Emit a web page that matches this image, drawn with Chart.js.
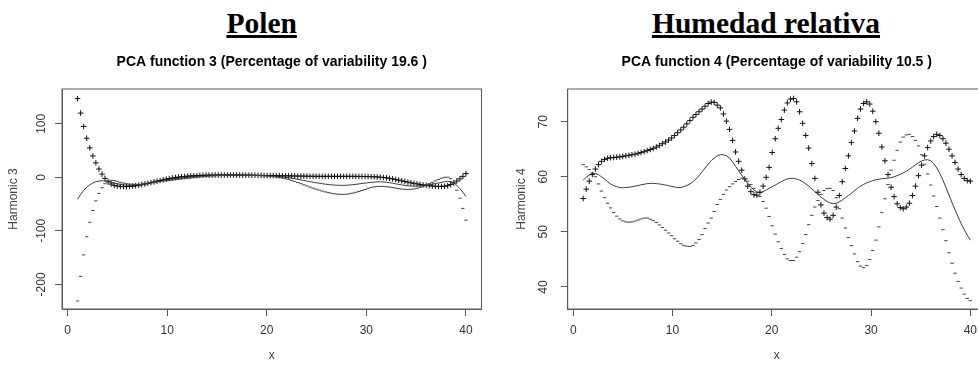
<!DOCTYPE html>
<html>
<head>
<meta charset="utf-8">
<script src="https://cdn.jsdelivr.net/npm/chart.js@4.4.0/dist/chart.umd.min.js"></script>
<style>
  html, body { margin: 0; padding: 0; background: #fff; overflow: hidden; width: 978px; height: 367px; }
  .head {
    position: absolute; top: 8.6px; width: 400px; text-align: center;
    font-family: 'Liberation Serif', 'Times New Roman', serif; font-weight: bold;
    font-size: 29.5px; line-height: 29.5px; color: #000;
    text-decoration: underline; text-decoration-thickness: 2.6px; text-underline-offset: 2px;
  }
  canvas { position: absolute; top: 0; }
</style>
</head>
<body>
<div class="head" style="left:61.7px">Polen</div>
<div class="head" style="left:566px">Humedad relativa</div>
<canvas id="polen" width="490" height="367" style="left:0"></canvas>
<canvas id="humedad" width="510" height="367" style="left:490px"></canvas>
<script>
// 128 evaluation points between 1 and 40 (as in plot.pca.fd)
var xGrid = [
  1.00, 1.31, 1.61, 1.92, 2.23, 2.54, 2.84, 3.15, 3.46, 3.76,
  4.07, 4.38, 4.69, 4.99, 5.30, 5.61, 5.91, 6.22, 6.53, 6.83,
  7.14, 7.45, 7.76, 8.06, 8.37, 8.68, 8.98, 9.29, 9.60, 9.91,
  10.21, 10.52, 10.83, 11.13, 11.44, 11.75, 12.06, 12.36, 12.67, 12.98,
  13.28, 13.59, 13.90, 14.20, 14.51, 14.82, 15.13, 15.43, 15.74, 16.05,
  16.35, 16.66, 16.97, 17.28, 17.58, 17.89, 18.20, 18.50, 18.81, 19.12,
  19.43, 19.73, 20.04, 20.35, 20.65, 20.96, 21.27, 21.57, 21.88, 22.19,
  22.50, 22.80, 23.11, 23.42, 23.72, 24.03, 24.34, 24.65, 24.95, 25.26,
  25.57, 25.87, 26.18, 26.49, 26.80, 27.10, 27.41, 27.72, 28.02, 28.33,
  28.64, 28.94, 29.25, 29.56, 29.87, 30.17, 30.48, 30.79, 31.09, 31.40,
  31.71, 32.02, 32.32, 32.63, 32.94, 33.24, 33.55, 33.86, 34.17, 34.47,
  34.78, 35.09, 35.39, 35.70, 36.01, 36.31, 36.62, 36.93, 37.24, 37.54,
  37.85, 38.16, 38.46, 38.77, 39.08, 39.39, 39.69, 40.00
];

var xTicks = [0, 10, 20, 30, 40];

// Polen - harmonic 3
var polenMean = [
  -41, -32, -24.5, -18.5, -14, -10.5, -8.2, -7, -6.5, -6.7,
  -7.6, -9, -10.6, -12, -13.2, -14.1, -14.6, -14.8, -14.8, -14.5,
  -14.0, -13.3, -12.4, -11.3, -10.2, -9.0, -7.9, -6.8, -5.8, -4.9,
  -4.0, -3.2, -2.4, -1.7, -1.0, -0.4, 0.2, 0.8, 1.3, 1.8,
  2.2, 2.6, 2.9, 3.2, 3.4, 3.6, 3.8, 3.9, 4.0, 4.1,
  4.1, 4.1, 4.1, 4.0, 4.0, 3.9, 3.8, 3.7, 3.6, 3.5,
  3.3, 3.1, 2.9, 2.6, 2.3, 1.9, 1.4, 0.8, 0.1, -0.7,
  -1.6, -2.6, -3.7, -4.8, -5.9, -7.0, -8.1, -9.1, -10.1, -11.0,
  -11.9, -12.7, -13.4, -14.0, -14.5, -14.8, -15.0, -15.0, -14.8, -14.4,
  -13.8, -13.1, -12.3, -11.5, -10.8, -10.2, -9.3, -8.8, -8.4, -8.3,
  -8.6, -9.3, -10.0, -11.0, -12.1, -13.2, -14.2, -15.1, -15.8, -16.3,
  -16.5, -16.4, -16.0, -15.4, -14.6, -13.8, -12.8, -11.7, -10.5, -9.3,
  -8.3, -7.7, -8.0, -10.0, -15.0, -21, -28, -36
];
var polenPlus = [
  147, 120, 95, 73, 55, 40, 27, 15.5, 6, -2,
  -8.5, -12.5, -15, -16.3, -17, -17.3, -17.3, -17, -16.5, -15.8,
  -14.8, -13.7, -12.5, -11.3, -10, -8.6, -7.2, -5.9, -4.6, -3.4,
  -2.3, -1.3, -0.4, 0.4, 1.1, 1.7, 2.2, 2.6, 3.0, 3.3,
  3.6, 3.8, 4.0, 4.1, 4.2, 4.3, 4.3, 4.3, 4.3, 4.3,
  4.3, 4.3, 4.2, 4.2, 4.1, 4.0, 4.0, 3.9, 3.8, 3.7,
  3.6, 3.5, 3.4, 3.3, 3.2, 3.1, 3.0, 2.9, 2.8, 2.7,
  2.6, 2.5, 2.4, 2.3, 2.2, 2.1, 2.0, 2.0, 1.9, 1.9,
  1.8, 1.8, 1.8, 1.8, 1.8, 1.8, 1.8, 1.8, 1.8, 1.8,
  1.8, 1.8, 1.7, 1.6, 1.5, 1.4, 1.2, 1.0, 0.7, 0.3,
  -0.3, -1.0, -1.9, -2.9, -4.0, -5.2, -6.5, -7.8, -9.0, -10.2,
  -11.3, -12.3, -13.3, -14.2, -15.0, -15.7, -16.3, -16.7, -17.0, -17.0,
  -16.6, -15.5, -13.5, -10.5, -6.8, -2.8, 1.8, 7.0
];
var polenMinus = [
  -231, -185, -145, -111, -84, -62, -44, -30, -19.5, -12,
  -7, -5.5, -6, -7.5, -9.3, -10.8, -11.9, -12.6, -13.0, -13.2,
  -13.2, -12.9, -12.3, -11.3, -10.4, -9.4, -8.6, -7.7, -7.0, -6.4,
  -5.7, -5.1, -4.4, -3.8, -3.1, -2.5, -1.8, -1.0, -0.4, 0.3,
  0.8, 1.4, 1.8, 2.3, 2.6, 2.9, 3.3, 3.5, 3.7, 3.9,
  3.9, 3.9, 4.0, 3.8, 3.9, 3.8, 3.6, 3.5, 3.4, 3.3,
  3.0, 2.7, 2.4, 1.9, 1.4, 0.7, -0.2, -1.3, -2.6, -4.1,
  -5.8, -7.7, -9.8, -11.9, -14.0, -16.1, -18.2, -20.2, -22.1, -23.9,
  -25.6, -27.2, -28.6, -29.8, -30.8, -31.4, -31.8, -31.8, -31.4, -30.6,
  -29.4, -28.0, -26.3, -24.6, -22.8, -20.6, -18.9, -17.8, -17.2, -17.0,
  -17.0, -17.6, -18.2, -19.1, -20.2, -21.2, -22.0, -22.4, -22.6, -22.4,
  -21.7, -20.5, -18.7, -16.6, -14.2, -11.9, -9.3, -6.7, -4.0, -1.6,
  0.0, 0.2, -2.5, -11, -24, -39, -58, -80
];
var polenYTicks = [-200, -100, 0, 100];

// Humedad relativa - harmonic 4
var humMean = [
  59.4, 59.9, 60.3, 60.55, 60.6, 60.4, 60.0, 59.6, 59.1, 58.7,
  58.4, 58.2, 58.05, 58.0, 58.05, 58.1, 58.2, 58.3, 58.4, 58.55,
  58.65, 58.75, 58.8, 58.8, 58.75, 58.7, 58.6, 58.5, 58.4, 58.25,
  58.15, 58.05, 58.05, 58.2, 58.4, 58.7, 59.1, 59.6, 60.2, 60.9,
  61.6, 62.3, 62.9, 63.4, 63.8, 64.0, 64.0, 63.8, 63.4, 62.7,
  61.9, 61.1, 60.3, 59.5, 58.8, 58.1, 57.6, 57.2, 57.1, 57.3,
  57.6, 57.9, 58.2, 58.5, 58.8, 59.1, 59.4, 59.6, 59.7, 59.7,
  59.6, 59.4, 59.1, 58.7, 58.3, 57.8, 57.3, 56.8, 56.3, 55.9,
  55.5, 55.25, 55.15, 55.2, 55.45, 55.8, 56.2, 56.6, 57.0, 57.5,
  57.9, 58.3, 58.6, 58.9, 59.1, 59.3, 59.45, 59.55, 59.65, 59.7,
  59.75, 59.85, 60.0, 60.2, 60.45, 60.7, 61.0, 61.35, 61.75, 62.15,
  62.55, 62.85, 63.05, 63.1, 62.9, 62.4, 61.6, 60.6, 59.4, 58.1,
  56.7, 55.3, 54.0, 52.7, 51.5, 50.4, 49.4, 48.5
];
var humPlus = [
  56.05, 57.75, 59.2, 60.4, 61.4, 62.2, 62.8, 63.15, 63.35, 63.45,
  63.5, 63.55, 63.6, 63.7, 63.8, 63.9, 64.0, 64.1, 64.25, 64.4,
  64.55, 64.75, 64.95, 65.15, 65.4, 65.7, 66.0, 66.3, 66.65, 67.05,
  67.5, 68.0, 68.5, 69.0, 69.6, 70.2, 70.8, 71.3, 71.8, 72.3,
  72.8, 73.3, 73.55, 73.5, 73.0, 72.5, 71.4, 70.1, 68.6, 66.6,
  64.5, 62.8, 61.2, 59.6, 58.3, 57.3, 56.75, 56.65, 57.2, 58.3,
  59.9, 61.7, 64.4, 66.9, 68.8, 70.4, 72.1, 73.4, 74.1, 74.2,
  73.6, 71.8, 69.7, 67.5, 65.2, 62.4, 59.7, 57.2, 54.9, 53.4,
  52.6, 52.3, 53.0, 54.5, 56.6, 59.1, 61.5, 63.8, 66.2, 68.3,
  70.6, 72.3, 73.3, 73.6, 73.2, 71.9, 70.0, 67.9, 65.4, 62.9,
  60.4, 58.1, 56.4, 55.1, 54.4, 54.2, 54.5, 55.2, 56.6, 58.3,
  60.2, 62.1, 63.8, 65.3, 66.5, 67.3, 67.7, 67.5, 66.9, 66.1,
  65.0, 63.8, 62.6, 61.4, 60.4, 59.7, 59.3, 59.2
];
var humMinus = [
  62.2, 61.8, 61.3, 60.7, 60.0, 58.7, 57.4, 56.2, 55.2, 54.35,
  53.5, 52.85, 52.35, 52.0, 51.8, 51.75, 51.8, 51.95, 52.15, 52.35,
  52.5, 52.5, 52.3, 52.05, 51.7, 51.25, 50.8, 50.3, 49.8, 49.3,
  48.75, 48.3, 47.85, 47.55, 47.4, 47.35, 47.55, 48.0, 48.6, 49.5,
  50.6, 51.6, 52.5, 53.7, 54.95, 55.9, 56.8, 57.6, 58.2, 58.7,
  59.15, 59.5, 59.75, 59.65, 59.2, 58.6, 57.9, 57.2, 56.4, 55.5,
  54.3, 52.8, 51.1, 49.6, 48.2, 47.0, 45.9, 45.1, 44.8, 44.8,
  45.4, 46.4, 47.9, 49.5, 51.3, 53.0, 54.5, 55.7, 56.8, 57.5,
  57.85, 57.9, 57.5, 56.2, 54.2, 52.5, 50.7, 49.0, 47.5, 46.0,
  44.6, 43.8, 43.5, 43.9, 45.0, 46.6, 48.5, 50.9, 53.5, 56.0,
  58.6, 61.2, 63.0, 64.8, 66.3, 67.2, 67.6, 67.7, 67.3, 66.6,
  65.6, 64.0, 62.3, 60.5, 58.5, 56.5, 54.6, 52.5, 50.4, 48.4,
  46.2, 44.3, 42.5, 41.0, 39.8, 38.7, 37.9, 37.5
];
var humYTicks = [40, 50, 60, 70];

var sans = "'Liberation Sans', Arial, Helvetica, sans-serif";
var axisGray = '#5a5a5a';

function toPoints(values) {
    return xGrid.map(function (x, i) { return { x: x, y: values[i] }; });
}

// frame around the plot region, like R's box()
var boxPlugin = {
    id: 'box',
    afterDatasetsDraw: function (chart) {
        var a = chart.chartArea;
        var ctx = chart.ctx;
        ctx.save();
        ctx.strokeStyle = axisGray;
        ctx.lineWidth = 1;
        ctx.strokeRect(a.left, a.top, a.right - a.left, a.bottom - a.top);
        ctx.restore();
    }
};

function pcaChart(id, cfg) {
    var data = {
        datasets: [{
            label: 'media',
            data: toPoints(cfg.mean),
            showLine: true,
            borderColor: '#3a3a3a',
            borderWidth: 1,
            pointRadius: 0,
            order: 3
        }, {
            label: '+',
            data: toPoints(cfg.plus),
            showLine: false,
            pointStyle: 'cross',
            pointRadius: 2.8,
            borderColor: '#111',
            borderWidth: 1,
            order: 2
        }, {
            label: '-',
            data: toPoints(cfg.minus),
            showLine: false,
            pointStyle: 'line',
            pointRadius: 1.7,
            borderColor: '#444',
            borderWidth: 1,
            order: 1
        }]
    };

    var config = {
        type: 'scatter',
        data: data,
        plugins: [boxPlugin],
        options: {
            responsive: false,
            animation: false,
            devicePixelRatio: 1,
            events: [],
            layout: { padding: { top: 50, left: 0, right: cfg.rightPad, bottom: 0 } },
            plugins: {
                legend: { display: false },
                tooltip: { enabled: false },
                title: {
                    display: true,
                    fullSize: false,
                    text: cfg.title,
                    color: '#000',
                    font: { family: sans, size: 14, weight: 'bold' },
                    padding: { top: 4, bottom: 18.2 }
                }
            },
            scales: {
                x: {
                    type: 'linear',
                    min: -0.56,
                    max: 41.56,
                    afterBuildTicks: function (s) { s.ticks = xTicks.map(function (v) { return { value: v }; }); },
                    afterFit: function (s) { s.height = 58; },
                    grid: { drawOnChartArea: false, drawTicks: true, tickLength: 7, color: axisGray },
                    border: { display: true, color: axisGray },
                    ticks: { padding: 7, color: '#333', font: { family: sans, size: 12 }, maxRotation: 0, autoSkip: false },
                    title: { display: true, text: 'x', color: '#444', font: { family: sans, size: 12 }, padding: { top: 0, bottom: 3.8 } }
                },
                y: {
                    type: 'linear',
                    min: cfg.yMin,
                    max: cfg.yMax,
                    afterBuildTicks: function (s) { s.ticks = cfg.yTicks.map(function (v) { return { value: v }; }); },
                    afterFit: function (s) { s.width = cfg.leftW; },
                    grid: { drawOnChartArea: false, drawTicks: true, tickLength: 7, color: axisGray },
                    border: { display: true, color: axisGray },
                    ticks: { minRotation: 90, maxRotation: 90, crossAlign: 'center', padding: cfg.tickPad, color: '#333', font: { family: sans, size: 12 } },
                    title: { display: true, text: cfg.yTitle, color: '#444', font: { family: sans, size: 12 }, padding: { top: cfg.titlePad, bottom: 0 } }
                }
            }
        }
    };

    return new Chart(document.getElementById(id), config);
}

var polenChart = pcaChart('polen', {
    title: 'PCA function 3 (Percentage of variability 19.6 )',
    yTitle: 'Harmonic 3',
    mean: polenMean, plus: polenPlus, minus: polenMinus,
    yMin: -246, yMax: 165, yTicks: polenYTicks,
    leftW: 62, rightPad: 8.5, tickPad: 1.3, titlePad: 6.5
});

var humedadChart = pcaChart('humedad', {
    title: 'PCA function 4 (Percentage of variability 10.5 )',
    yTitle: 'Harmonic 4',
    mean: humMean, plus: humPlus, minus: humMinus,
    yMin: 36.0, yMax: 75.93, yTicks: humYTicks,
    leftW: 77.7, rightPad: 14.2, tickPad: 10.7, titlePad: 24.5
});
</script>
</body>
</html>
